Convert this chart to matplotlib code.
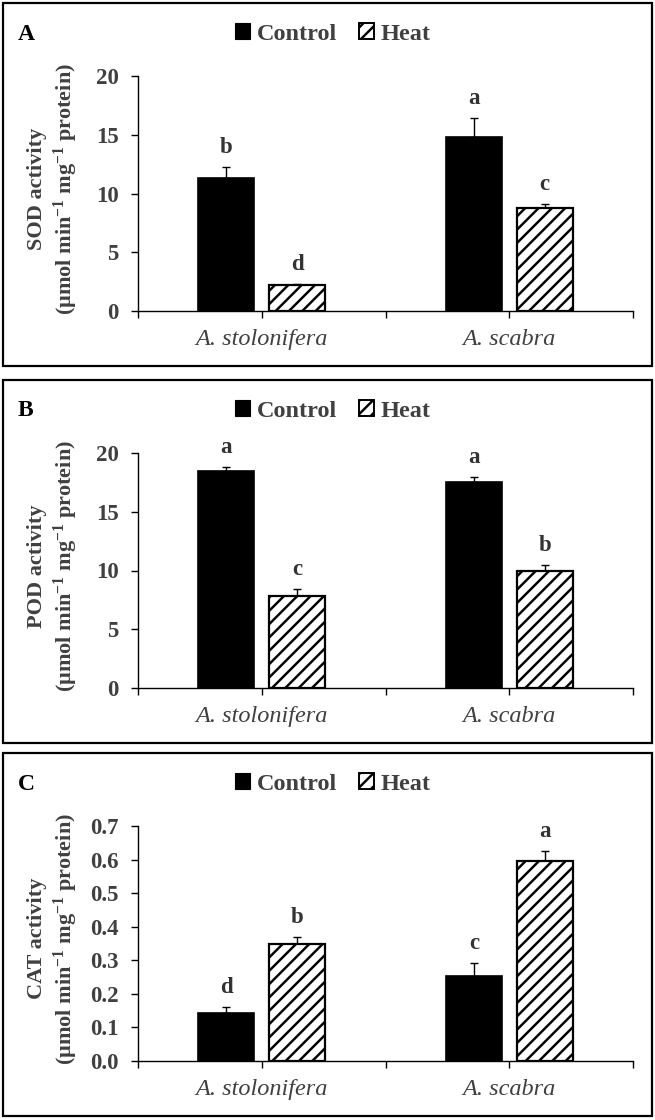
import matplotlib.pyplot as plt
from matplotlib.patches import Rectangle, Patch
from matplotlib.ticker import FormatStrFormatter
import numpy as np

# drawn at 80 dpi so the hatch stripes come out as dense as in the original;
# S converts sizes picked for 100 dpi into points at 80 dpi
DPI = 80
S = 100 / DPI

# Fonts
plt.rcParams['font.family'] = ['Liberation Serif', 'DejaVu Serif']
plt.rcParams['mathtext.fontset'] = 'custom'
plt.rcParams['mathtext.rm'] = 'Liberation Serif:bold'
plt.rcParams['mathtext.it'] = 'Liberation Serif:italic:bold'
plt.rcParams['mathtext.bf'] = 'Liberation Serif:bold'
plt.rcParams['mathtext.default'] = 'rm'
plt.rcParams['hatch.linewidth'] = 2.2

# Data
species = ['A. stolonifera', 'A. scabra']
groups = ['Control', 'Heat']

sod_control = [11.35, 14.8]
sod_control_err = [0.9, 1.6]
sod_heat = [2.2, 8.8]
sod_heat_err = [0.1, 0.3]
sod_letters_control = ['b', 'a']
sod_letters_heat = ['d', 'c']

pod_control = [18.45, 17.5]
pod_control_err = [0.4, 0.45]
pod_heat = [7.8, 10.0]
pod_heat_err = [0.6, 0.5]
pod_letters_control = ['a', 'a']
pod_letters_heat = ['c', 'b']

cat_control = [0.142, 0.254]
cat_control_err = [0.02, 0.037]
cat_heat = [0.348, 0.597]
cat_heat_err = [0.022, 0.03]
cat_letters_control = ['d', 'c']
cat_letters_heat = ['b', 'a']

panels = [
    ('A', 'SOD activity', sod_control, sod_control_err, sod_heat, sod_heat_err,
     sod_letters_control, sod_letters_heat, [0, 5, 10, 15, 20], '%d'),
    ('B', 'POD activity', pod_control, pod_control_err, pod_heat, pod_heat_err,
     pod_letters_control, pod_letters_heat, [0, 5, 10, 15, 20], '%d'),
    ('C', 'CAT activity', cat_control, cat_control_err, cat_heat, cat_heat_err,
     cat_letters_control, cat_letters_heat, [0, 0.1, 0.2, 0.3, 0.4, 0.5, 0.6, 0.7], '%.1f'),
]

W, H = 655, 1120
grey = '#404040'
fig = plt.figure(figsize=(W / DPI, H / DPI), dpi=DPI)

frame_tops = [3, 380, 753]
x = np.arange(len(species))
width = 0.227
offset = 0.143

for (label, name, ctrl, ctrl_err, heat, heat_err, lc, lh, yticks, fmt), top in zip(panels, frame_tops):
    # panel frame
    fig.add_artist(Rectangle((3 / W, 1 - (top + 363) / H), 649 / W, 363 / H,
                             transform=fig.transFigure, fill=False, lw=1.6 * S, ec='black'))
    ax = fig.add_axes([138 / W, 1 - (top + 308) / H, 495 / W, 235 / H])

    ax.bar(x - offset, ctrl, width, color='black', edgecolor='black', lw=1.2 * S, zorder=2)
    ax.bar(x + offset, heat, width, color='white', edgecolor='black', lw=1.6 * S,
           hatch='//', zorder=2)
    ax.errorbar(x - offset, ctrl, yerr=[np.zeros(len(ctrl)), ctrl_err], fmt='none',
                ecolor='black', elinewidth=1 * S, capsize=3 * S, capthick=1 * S, zorder=1)
    ax.errorbar(x + offset, heat, yerr=[np.zeros(len(heat)), heat_err], fmt='none',
                ecolor='black', elinewidth=1 * S, capsize=3 * S, capthick=1 * S, zorder=1)

    # significance letters
    for xs, vals, errs, letters in [(x - offset, ctrl, ctrl_err, lc), (x + offset, heat, heat_err, lh)]:
        for xi, v, e, t in zip(xs, vals, errs, letters):
            ax.annotate(t, (xi, v + e), xytext=(0, 14 * S), textcoords='offset points',
                        ha='center', va='center', fontsize=16.5 * S, fontweight='bold',
                        color='#333333')

    ax.set_xlim(-0.5, 1.5)
    ax.set_ylim(yticks[0], yticks[-1])
    ax.set_yticks(yticks)
    ax.yaxis.set_major_formatter(FormatStrFormatter(fmt))
    ax.set_xticks([-0.5, 0, 0.5, 1, 1.5])
    ax.set_xticklabels(['', species[0], '', species[1], ''], fontstyle='italic',
                       fontsize=17.5 * S, color=grey)
    ax.tick_params(axis='x', length=5 * S, width=1 * S, pad=8 * S, direction='out')
    ax.tick_params(axis='y', length=5 * S, width=1 * S, pad=9 * S, direction='out',
                   labelsize=16.5 * S, labelcolor=grey)
    for t in ax.get_yticklabels():
        t.set_fontweight('bold')
    for s in ['top', 'right']:
        ax.spines[s].set_visible(False)
    for s in ['left', 'bottom']:
        ax.spines[s].set_linewidth(1 * S)
    ax.set_ylabel(name + '\n(\u00b5mol min$^{-1}$ mg$^{-1}$ protein)', fontsize=16 * S,
                  fontweight='bold', color=grey, linespacing=1.2)
    ax.yaxis.set_label_coords(-0.118, 0.52)

    # panel label
    fig.text(18 / W, 1 - (top + 31) / H, label, fontsize=17 * S, fontweight='bold',
             ha='left', va='center', color='black')

    # legend
    handles = [Patch(facecolor='black', edgecolor='black', label=groups[0]),
               Patch(facecolor='white', edgecolor='black', hatch='//', lw=1.4 * S, label=groups[1])]
    leg = ax.legend(handles=handles, loc='center', ncol=2, frameon=False,
                    bbox_to_anchor=(333 / W, 1 - (top + 31) / H), bbox_transform=fig.transFigure,
                    handlelength=0.6, handleheight=0.6, handletextpad=0.3, columnspacing=0.9,
                    prop={'size': 17.5 * S, 'weight': 'bold'})
    for t in leg.get_texts():
        t.set_color(grey)

fig.savefig('out.png', dpi=DPI)
